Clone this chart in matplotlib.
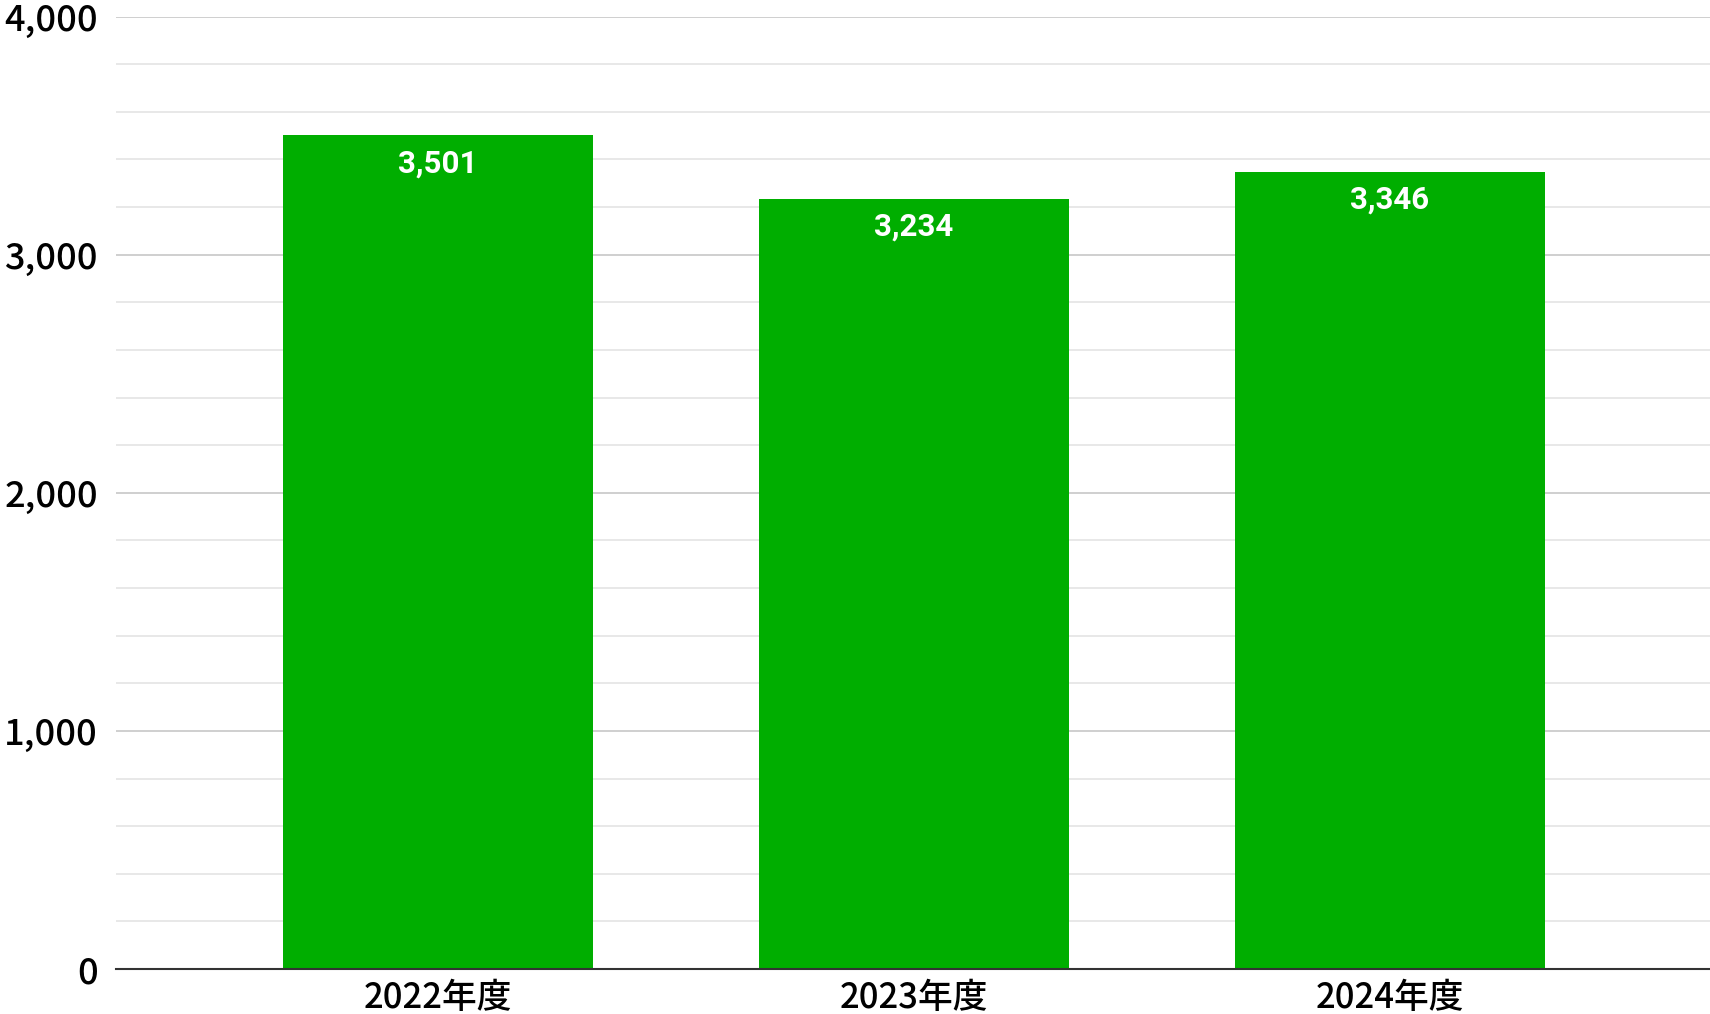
import matplotlib
matplotlib.use("Agg")
import matplotlib.pyplot as plt
from matplotlib.ticker import MultipleLocator, FuncFormatter

# data
years = ["2022年度", "2023年度", "2024年度"]
values = [3501, 3234, 3346]

bar_color = "#00ae00"

plt.rcParams['font.family'] = ['Noto Sans CJK JP', 'DejaVu Sans']

fig = plt.figure(figsize=(17.1, 10.14), dpi=100)
ax = fig.add_axes([116/1710, 1 - 969/1014, 1 - 116/1710, (969 - 16.5)/1014])

x = list(range(len(years)))
bars = ax.bar(x, values, width=0.651, color=bar_color, zorder=3)

for b, v in zip(bars, values):
    ax.annotate(f"{v:,}", xy=(b.get_x() + b.get_width()/2, v),
                xytext=(0, -20), textcoords="offset points",
                ha="center", va="center", color="white",
                fontsize=22.5, fontweight="bold", family="Roboto", zorder=4)

ax.set_ylim(0, 4000)
ax.set_xlim(-0.676, 2.672)
ax.yaxis.set_major_locator(MultipleLocator(1000))
ax.yaxis.set_minor_locator(MultipleLocator(200))
ax.yaxis.set_major_formatter(FuncFormatter(lambda v, p: f"{int(v):,}"))
ax.grid(axis="y", which="major", color="#cccccc", linewidth=1.3, zorder=1)
ax.grid(axis="y", which="minor", color="#e4e4e4", linewidth=1.2, zorder=1)

ax.set_xticks(x)
ax.set_xticklabels(years, fontsize=25, fontweight="medium")
for t in ax.get_yticklabels():
    t.set_fontweight("medium")
ax.tick_params(axis="y", which="both", length=0, labelsize=26, pad=13)
ax.tick_params(axis="x", length=0, pad=8)

for s in ["top", "right", "left"]:
    ax.spines[s].set_visible(False)
ax.spines["bottom"].set_color("#333333")
ax.spines["bottom"].set_linewidth(1.5)
ax.spines["bottom"].set_zorder(5)

fig.savefig("out.png", dpi=100)
